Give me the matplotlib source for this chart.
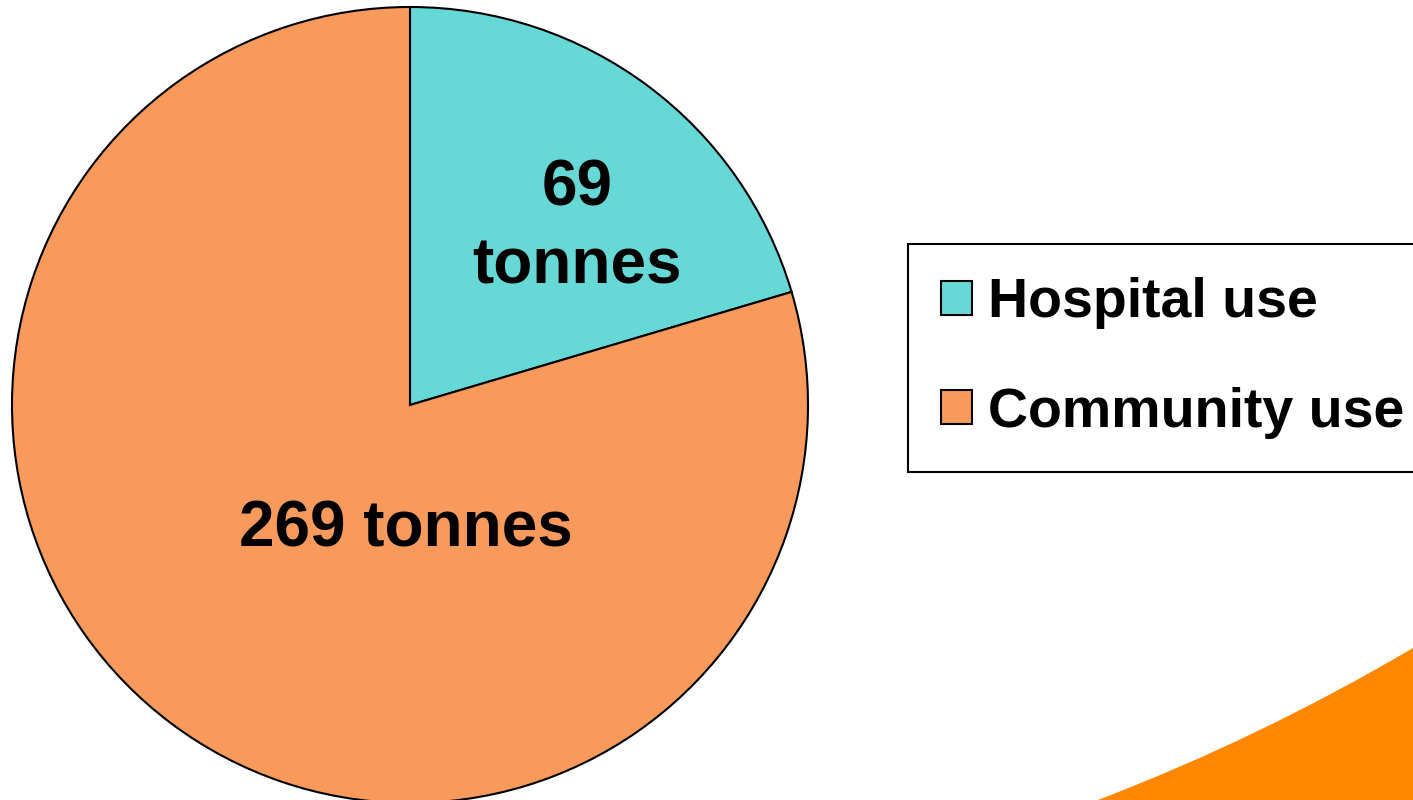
import matplotlib.pyplot as plt
import matplotlib.patches as mpatches
from matplotlib.path import Path

plt.rcParams['font.family'] = ['Liberation Sans', 'DejaVu Sans']

# data
categories = ["Hospital use", "Community use"]
tonnes = [69, 269]
slice_labels = ["69\ntonnes", "269 tonnes"]
slice_colors = ["#66D9D6", "#F79A5C"]

fig = plt.figure(figsize=(14.13, 8.0), dpi=100)

# decorative orange swoosh in the bottom-right corner
verts = [(1098 / 1413, 0.0), (1260 / 1413, 62 / 800), (1.0, 152 / 800),
         (1.0, 0.0), (1098 / 1413, 0.0)]
codes = [Path.MOVETO, Path.CURVE3, Path.CURVE3, Path.LINETO, Path.CLOSEPOLY]
fig.patches.append(mpatches.PathPatch(Path(verts, codes), facecolor="#FF8800",
                                      edgecolor="none", transform=fig.transFigure))

ax = fig.add_axes([12 / 1413, -3 / 800, 796 / 1413, 796 / 800])
wedges, _ = ax.pie(tonnes, colors=slice_colors, startangle=90, counterclock=False,
                   wedgeprops=dict(edgecolor="black", linewidth=1.5))
ax.set_xlim(-1, 1)
ax.set_ylim(-1, 1)

ax.text(0.42, 0.445, slice_labels[0], ha="center", va="center", fontsize=46,
        fontweight="bold", linespacing=1.38)
ax.text(-0.01, -0.314, slice_labels[1], ha="center", va="center", fontsize=46,
        fontweight="bold")

leg = fig.legend(wedges, categories, loc="upper left",
                 bbox_to_anchor=(908 / 1413, 556 / 800), borderaxespad=0,
                 prop=dict(weight="bold", size=40),
                 handlelength=0.56, handleheight=0.56, handletextpad=0.28,
                 labelspacing=1.03, borderpad=0.6, fancybox=False,
                 framealpha=1, edgecolor="black")
leg.get_frame().set_linewidth(1.5)

fig.savefig("out.png", dpi=100)
